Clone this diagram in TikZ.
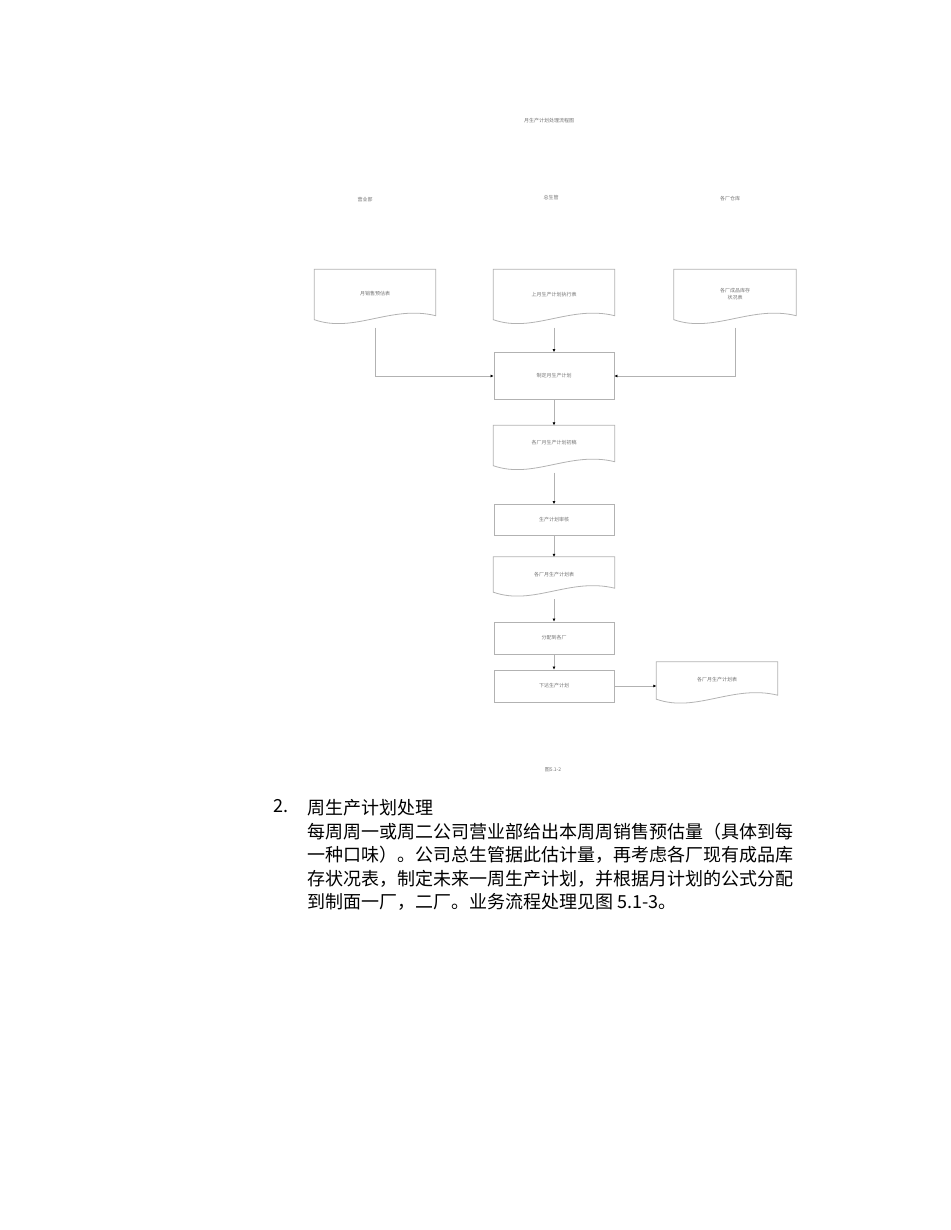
\documentclass[tikz,border=0pt]{standalone}
\usepackage{fontspec}
\newfontfamily\cjk{Noto Sans CJK SC}
\usetikzlibrary{arrows.meta}
\newcommand{\wavedoc}[1]{%
  \draw[ln] (#1.north west) -- (#1.north east) -- ([yshift=9pt]#1.south east)
   .. controls ([xshift=-45pt,yshift=20pt]#1.south east) and ([xshift=40pt,yshift=-9pt]#1.south west) .. ([yshift=5pt]#1.south west) -- cycle;}
\begin{document}
\begin{tikzpicture}[x=1pt,y=-1pt,
  ln/.style={draw=black!30,line width=0.8pt},
  proc/.style={ln,minimum width=120pt,inner sep=0pt,font=\cjk\fontsize{5}{6}\selectfont,text=black!55},
  doc/.style={draw=none,inner sep=0pt,font=\cjk\fontsize{5}{6}\selectfont,text=black!55},
  lab/.style={font=\cjk\fontsize{5}{6}\selectfont,text=black!55},
  arr/.style={ln,-{Latex[length=3pt,width=3pt,black]}},
  body/.style={font=\cjk\fontsize{18}{23.5}\selectfont,anchor=north west,align=left}]
\useasboundingbox (0,0) rectangle (950,1230);
\node[lab] (title) at (549,121) {月生产计划处理流程图};
\node[lab] (c1) at (365,200) {营业部};
\node[lab] (c2) at (551,198) {总生管};
\node[lab] (c3) at (730,199) {各厂仓库};
\node[doc,minimum width=121pt,minimum height=55pt] (d1) at (375,297) {\raisebox{8pt}{月销售预估表}};
\node[doc,minimum width=121pt,minimum height=55pt] (d2) at (554,297) {\raisebox{6pt}{上月生产计划执行表}};
\node[doc,minimum width=122pt,minimum height=55pt] (d3) at (735,297) {\raisebox{6pt}{\shortstack{各厂成品库存\\状况表}}};
\wavedoc{d1}\wavedoc{d2}\wavedoc{d3}
\node[proc,minimum height=47pt] (p1) at (554,376) {制定月生产计划};
\node[doc,minimum width=121pt,minimum height=45pt] (d4) at (554,448) {\raisebox{12pt}{各厂月生产计划初稿}};
\wavedoc{d4}
\node[proc,minimum height=31pt] (p2) at (554,520) {生产计划审核};
\node[doc,minimum width=121pt,minimum height=40pt] (d5) at (554,577) {\raisebox{6pt}{各厂月生产计划表}};
\wavedoc{d5}
\node[proc,minimum height=32pt] (p3) at (554,638) {分配到各厂};
\node[proc,minimum height=32pt] (p4) at (554,686) {下达生产计划};
\node[doc,minimum width=121pt,minimum height=42pt] (d6) at (717,683) {\raisebox{8pt}{各厂月生产计划表}};
\wavedoc{d6}
\draw[arr] ([yshift=-3pt]d1.south) |- (p1.west);
\draw[arr] ([yshift=-3pt]d3.south) |- (p1.east);
\draw[arr] ([yshift=-3pt]d2.south) -- (p1.north);
\draw[arr] (p1.south) -- (d4.north);
\draw[arr] ([yshift=-2pt]d4.south) -- (p2.north);
\draw[arr] (p2.south) -- (d5.north);
\draw[arr] ([yshift=-2pt]d5.south) -- (p3.north);
\draw[arr] (p3.south) -- (p4.north);
\draw[arr] (p4.east) -- (d6.west |- p4.east);
\node[lab] (cap) at (553,770) {图5.1-2};
\node[body] (num) at (270,796) {2.};
\node[body] (txt) at (304,796) {周生产计划处理\\每周周一或周二公司营业部给出本周周销售预估量（具体到每\\一种口味）。公司总生管据此估计量，再考虑各厂现有成品库\\存状况表，制定未来一周生产计划，并根据月计划的公式分配\\到制面一厂，二厂。业务流程处理见图 5.1-3。};
\end{tikzpicture}
\end{document}
